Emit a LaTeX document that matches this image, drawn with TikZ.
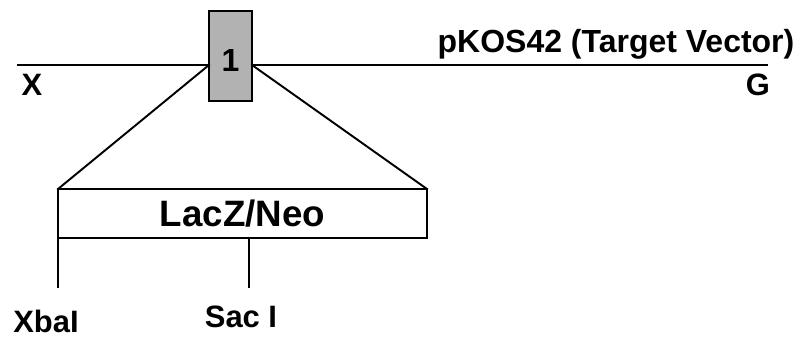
\documentclass[tikz,border=0pt]{standalone}
\usepackage{fontspec}
\setmainfont{Liberation Sans}
\usepackage{tikz}
\usepackage{xcolor}

\begin{document}
\begin{tikzpicture}[line width=1.1pt,line cap=rect,
  lbl/.style={inner sep=0pt,anchor=base,font=\bfseries\fontsize{17.6}{20}\selectfont},
  site/.style={inner sep=0pt,anchor=base,font=\bfseries\fontsize{17.6}{20}\selectfont}]
\useasboundingbox (0,0) rectangle (16.12,6.74);
\coordinate (lineL) at (0.36,5.44);
\coordinate (lineR) at (15.34,5.44);
\node[draw,fill=black!30,outer sep=0pt,minimum width=0.86cm,minimum height=1.8cm,inner sep=0pt,text height=17.5pt,text depth=0pt,font=\bfseries\fontsize{18.2}{20}\selectfont] (box1) at (4.61,5.62) {1};
\draw (lineL) -- (lineL -| box1.west);
\draw (box1.east |- lineR) -- (lineR);
\node[lbl] (xend) at (0.64,4.84) {X};
\node[lbl] (gend) at (15.16,4.83) {G};
\node[inner sep=0pt,anchor=base,font=\bfseries\fontsize{18.2}{20}\selectfont] (vector) at (12.32,5.70) {pKOS42 (Target Vector)};
% insert
\node[draw,outer sep=0pt,minimum width=7.38cm,minimum height=0.98cm,inner sep=0pt,font=\bfseries\fontsize{20.9}{24}\selectfont] (lacz) at (4.85,2.47) {LacZ/Neo};
\draw (lineL -| box1.west) -- (lacz.north west);
\draw (lineR -| box1.east) -- (lacz.north east);
% cut sites
\coordinate (xbaI) at (1.16,1.0);
\coordinate (sacI) at (4.98,1.0);
\draw (lacz.south west) -- (xbaI);
\draw (lacz.south -| sacI) -- (sacI);
\node[site] (xbaIlbl) at (0.92,0.10) {XbaI};
\node[site] (sacIlbl) at (4.82,0.20) {Sac I};
\end{tikzpicture}
\end{document}
